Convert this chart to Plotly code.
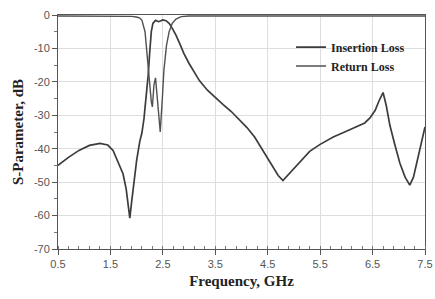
import plotly.graph_objects as go

# Insertion loss (S21)
freq_il = [0.5, 0.7, 0.9, 1.1, 1.3, 1.45, 1.55, 1.65, 1.74, 1.80, 1.84, 1.87, 1.90, 1.93, 1.97,
           2.0, 2.06, 2.10, 2.14, 2.18, 2.22, 2.25, 2.28, 2.31, 2.36, 2.42, 2.50, 2.56, 2.62,
           2.68, 2.75, 2.82, 2.90, 3.0, 3.1, 3.2, 3.35, 3.5, 3.65, 3.8, 3.95, 4.1, 4.25, 4.4,
           4.55, 4.7, 4.79, 4.88, 5.0, 5.12, 5.3, 5.5, 5.75, 6.0, 6.2, 6.35, 6.45, 6.55, 6.62,
           6.7, 6.76, 6.83, 6.92, 7.02, 7.12, 7.21, 7.28, 7.35, 7.42, 7.5]
il_db = [-45, -42.6, -40.5, -39.0, -38.4, -38.9, -40.5, -44, -47.5, -52, -57.5, -60.8, -56.5, -52, -47,
         -43.5, -37.8, -35.3, -31, -25, -18, -11, -5, -2.5, -1.6, -2.0, -1.5, -1.7, -2.5,
         -4, -6, -8.5, -11.5, -14.5, -17.3, -19.7, -22.5, -24.8, -26.8, -28.8, -31.2, -33.6, -36.5, -40.3,
         -44, -48, -49.5, -48, -46, -44, -40.8, -38.7, -36.5, -34.8, -33.4, -32.3, -30.8, -28.5, -25.8,
         -23.2, -27, -33, -38.5, -44.3, -48.5, -50.9, -48.5, -43.4, -38.5, -33.5]

# Return loss (S11)
freq_rl = [0.5, 1.0, 1.5, 1.9, 2.0, 2.06, 2.10, 2.16, 2.20, 2.24, 2.28, 2.30, 2.33, 2.36, 2.40,
           2.45, 2.49, 2.52, 2.57, 2.62, 2.68, 2.75, 2.85, 3.0, 4.0, 5.0, 6.0, 7.5]
rl_db = [-0.3, -0.3, -0.3, -0.4, -0.6, -0.9, -1.5, -5, -12, -20, -26, -27.5, -21, -18.8, -25,
         -35, -25, -16.5, -9, -5, -2.5, -1.2, -0.5, -0.3, -0.3, -0.3, -0.3, -0.3]

x_ticks = [0.5, 1.5, 2.5, 3.5, 4.5, 5.5, 6.5, 7.5]
y_ticks = [0, -10, -20, -30, -40, -50, -60, -70]

fig = go.Figure()
fig.add_trace(go.Scatter(x=freq_il, y=il_db, mode="lines", name="<b>Insertion Loss</b>",
                         line=dict(color="#3c3c3c", width=1.7)))
fig.add_trace(go.Scatter(x=freq_rl, y=rl_db, mode="lines", name="<b>Return Loss</b>",
                         line=dict(color="#505050", width=1.4)))

serif = "Liberation Serif, Times New Roman, serif"
sans = "Liberation Sans, Arial, sans-serif"

fig.update_layout(
    width=435, height=299,
    margin=dict(l=58, r=10, t=15, b=50),
    paper_bgcolor="white", plot_bgcolor="white",
    showlegend=True,
    legend=dict(x=0.635, y=0.925, xanchor="left", yanchor="top",
                bgcolor="rgba(255,255,255,0)", borderwidth=0,
                font=dict(family=serif, size=12, color="#222"),
                itemwidth=30, tracegroupgap=0),
)
fig.update_xaxes(
    range=[0.5, 7.5], tickvals=x_ticks, ticktext=[str(v) for v in x_ticks],
    showgrid=True, gridcolor="#dedede", gridwidth=1,
    showline=True, linecolor="#555", linewidth=1, mirror=True,
    ticks="outside", ticklen=5, tickcolor="#555",
    minor=dict(dtick=0.2, tick0=0.5, ticks="inside", ticklen=3, tickcolor="#777", showgrid=False),
    tickfont=dict(family=sans, size=11, color="#555"),
    ticklabeloverflow="allow",
    title=dict(text="<b>Frequency, GHz</b>", font=dict(family=serif, size=15, color="#222"), standoff=6),
    zeroline=False, automargin=False,
)
fig.update_yaxes(
    range=[-70, 0], tickvals=y_ticks, ticktext=[str(v) for v in y_ticks],
    showgrid=True, gridcolor="#dedede", gridwidth=1,
    showline=True, linecolor="#555", linewidth=1, mirror=True,
    ticks="outside", ticklen=5, tickcolor="#555",
    minor=dict(dtick=5, ticks="outside", ticklen=3, tickcolor="#777", showgrid=False),
    tickfont=dict(family=sans, size=11, color="#555"),
    ticklabeloverflow="allow",
    title=dict(text="<b>S-Parameter, dB</b>", font=dict(family=serif, size=15, color="#222"), standoff=6),
    zeroline=False, automargin=False,
)

# remove the default page margin so the 435x299 figure fills the window exactly
fig.write_html("out.html",
               config={"displayModeBar": False},
               post_script="document.body.style.margin='0';document.body.style.overflow='hidden';")
